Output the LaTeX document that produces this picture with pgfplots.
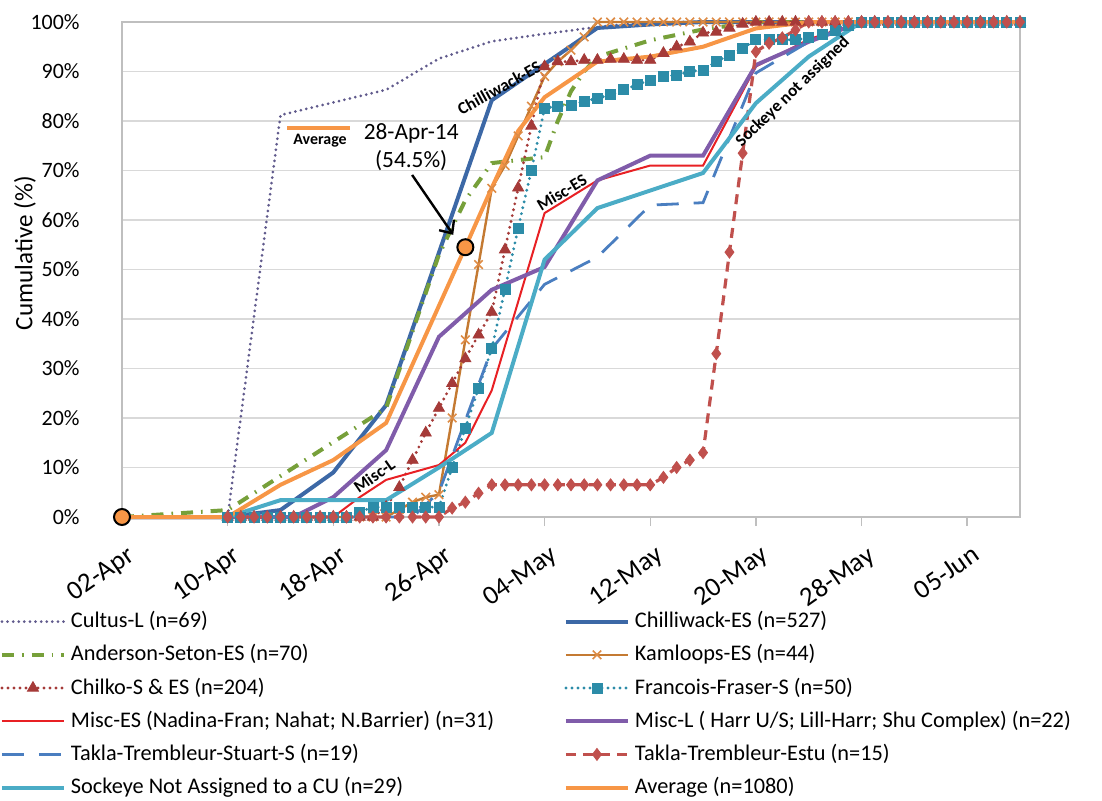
\documentclass[border=0pt]{standalone}
\usepackage{fontspec}
\setmainfont{Carlito}
\usepackage{pgfplots}
\usepackage{pgfplotstable}
\pgfplotsset{compat=1.18}
\usetikzlibrary{arrows.meta}

\definecolor{cultus}{RGB}{96,90,140}
\definecolor{chill}{RGB}{60,104,166}
\definecolor{anders}{RGB}{119,160,58}
\definecolor{kam}{RGB}{196,122,50}
\definecolor{kammark}{RGB}{222,140,70}
\definecolor{chilko}{RGB}{165,58,56}
\definecolor{fran}{RGB}{44,140,168}
\definecolor{miscES}{RGB}{232,32,36}
\definecolor{miscL}{RGB}{128,92,170}
\definecolor{stuart}{RGB}{74,126,192}
\definecolor{estu}{RGB}{192,80,77}
\definecolor{sockeye}{RGB}{75,172,198}
\definecolor{avg}{RGB}{247,150,70}
\definecolor{gridc}{RGB}{217,217,217}
\definecolor{axisc}{RGB}{191,191,191}

% day 0 = 02-Apr
\pgfplotstableread{
day kam chilko fran estu
0 0 0 0 0
8 0 0 0 0
9 0 0 0 0
10 0 0 0 0
11 0 0 0 0
12 0 0 0 0
13 0 0 0 0
14 0 0 0 0
15 0 0 0 0
16 0 0 0 0
17 0 0 0 0
18 0 0 1 0
19 0 0 2 0
20 0 2 2 0
21 1.5 6 2 0
22 3 11.5 2 0
23 4 17 2 0
24 4.5 22 2 0
25 20 27 10 1.8
26 35.8 32 18 3
27 51 36.8 26 4.8
28 66.4 41.4 34 6.5
29 71 54 46 6.5
30 77 66.5 58.4 6.5
31 83 79 70 6.5
32 89 91 82.6 6.5
33 92 92 83 6.5
34 94.3 92 83.2 6.5
35 97 92.3 84 6.5
36 100 92.3 84.6 6.5
37 100 92.5 85.3 6.5
38 100 92.5 86.3 6.5
39 100 92.3 87.3 6.5
40 100 92.3 88.3 6.5
41 100 93.7 89 8
42 100 95 89.3 10
43 100 96 90 11.5
44 100 97.8 90.3 13
45 100 98 92 33
46 100 98.8 93.3 53.5
47 100 99.6 94.7 73.5
48 100 100 96.4 94
49 100 100 96.4 95.7
50 100 100 96.4 96.8
51 100 100 96.4 98.4
52 100 100 96.8 100
53 100 100 97.4 100
54 100 100 98.4 100
55 100 100 99.4 100
56 100 100 100 100
57 100 100 100 100
58 100 100 100 100
59 100 100 100 100
60 100 100 100 100
61 100 100 100 100
62 100 100 100 100
63 100 100 100 100
64 100 100 100 100
65 100 100 100 100
66 100 100 100 100
67 100 100 100 100
68 100 100 100 100
}\daily

\begin{document}
\begin{tikzpicture}
\begin{axis}[
  scale only axis, width=449bp, height=247.5bp,
  xmin=0, xmax=68, ymin=0, ymax=100,
  clip=false,
  axis line style={draw=axisc, line width=0.7bp},
  ymajorgrids, grid style={draw=gridc, line width=0.7bp},
  xtick={0,8,16,24,32,40,48,56,64},
  xticklabels={02-Apr,10-Apr,18-Apr,26-Apr,04-May,12-May,20-May,28-May,05-Jun},
  ytick={0,10,...,100},
  yticklabels={0\%,10\%,20\%,30\%,40\%,50\%,60\%,70\%,80\%,90\%,100\%},
  tick align=outside, major tick length=4.5bp,
  xtick pos=left, ytick pos=left,
  xtick style={draw=axisc, line width=0.7bp},
  ytick style={draw=none},
  yticklabel style={font=\fontsize{11}{12}\selectfont, anchor=east, inner sep=0pt, xshift=-16.5bp},
  xticklabel style={font=\fontsize{13.5}{15}\selectfont, inner sep=0pt, xshift=2bp, yshift=-9bp, rotate=35, anchor=north east},
  ylabel={Cumulative (\%)},
  ylabel style={font=\fontsize{12.6}{14}\selectfont, at={(axis description cs:-0.108,0.533)}, anchor=center},
  legend columns=2,
  legend cell align=left,
  legend style={at={(axis description cs:-0.1359,-0.1778)}, anchor=north west,
    draw=none, fill=none, inner sep=0pt, outer sep=0pt,
    font=\fontsize{11.2}{13}\selectfont,
    nodes={inner xsep=2.5bp, inner ysep=2.5bp, text height=8.8bp, text depth=2.8bp, text width=240bp, align=flush left},
    /tikz/every even column/.append style={column sep=4bp}},
  legend image code/.code={\draw[mark repeat=2,mark phase=2,#1] plot coordinates {(0bp,0bp) (15.5bp,0bp) (31bp,0bp)};},
]
% Cultus-L
\addplot[cultus, line width=1.5bp, line cap=round, dash pattern=on 0bp off 2.8bp] coordinates {
(0,0) (8,0) (12,81.2) (20,86.3) (24,92.6) (28,96.1) (32,97.6) (36,99) (40,100) (68,100)};
\addlegendentry{Cultus-L (n=69)}
% Chilliwack-ES
\addplot[chill, line width=2bp] coordinates {
(0,0) (8,0) (12,1.4) (16,9) (20,22.6) (28,84.2) (36,98.8) (40,99.5) (44,100) (68,100)};
\addlegendentry{Chilliwack-ES (n=527)}
% Anderson-Seton-ES
\addplot[anders, line width=2bp, dash pattern=on 6bp off 4bp on 0.8bp off 4bp] coordinates {
(0,0) (8,1.4) (20,22) (24,53) (26,64) (28,71.5) (32,72.7) (33,80) (34,86) (35,90) (36,93) (40,96.3) (44,98.5) (48,100) (68,100)};
\addlegendentry{Anderson-Seton-ES (n=70)}
% Kamloops-ES
\addplot[kam, line width=1.2bp, mark=x, mark size=3bp, mark options={kammark, line width=0.8bp}] table[x=day,y=kam] {\daily};
\addlegendentry{Kamloops-ES (n=44)}
% Chilko
\addplot[chilko, line width=1.6bp, line cap=round, dash pattern=on 0bp off 3bp, mark=triangle*, mark size=3.2bp, mark options={solid, fill=chilko, draw=chilko, line width=0.4bp}] table[x=day,y=chilko] {\daily};
\addlegendentry{Chilko-S \& ES (n=204)}
% Francois-Fraser-S
\addplot[fran, line width=1.6bp, line cap=round, dash pattern=on 0bp off 3bp, mark=square*, mark size=2.5bp, mark options={solid, fill=fran, draw=fran, line width=0.4bp}] table[x=day,y=fran] {\daily};
\addlegendentry{Francois-Fraser-S (n=50)}
% Misc-ES
\addplot[miscES, line width=1bp] coordinates {
(0,0) (8,0) (16,0) (18,4) (20,7.5) (24,10.5) (26,15) (28,25.6) (32,61.4) (36,68) (40,71) (44,71) (48,91) (52,96.5) (56,100) (68,100)};
\addlegendentry{Misc-ES (Nadina-Fran; Nahat; N.Barrier) (n=31)}
% Misc-L
\addplot[miscL, line width=2bp] coordinates {
(0,0) (8,0) (13,0) (16,4) (20,13.5) (24,36.4) (28,45.9) (32,50.5) (36,68) (40,73) (44,73) (48,91.3) (52,96) (56,100) (68,100)};
\addlegendentry{Misc-L ( Harr U/S; Lill-Harr; Shu Complex) (n=22)}
% Takla-Trembleur-Stuart-S
\addplot[stuart, line width=1.4bp, dash pattern=on 11bp off 7.5bp] coordinates {
(0,0) (8,0) (22,0) (23,2.5) (24,5) (28,34) (32,47) (36,52.5) (40,63) (44,63.5) (48,89.7) (52,96) (56,100) (68,100)};
\addlegendentry{Takla-Trembleur-Stuart-S (n=19)}
% Takla-Trembleur-Estu
\addplot[estu, line width=1.6bp, dash pattern=on 5bp off 3.5bp, mark=diamond*, mark size=3bp, mark options={solid, fill=estu, draw=estu, line width=0.4bp}] table[x=day,y=estu] {\daily};
\addlegendentry{Takla-Trembleur-Estu (n=15)}
% Sockeye not assigned
\addplot[sockeye, line width=2bp] coordinates {
(0,0) (8,0) (12,3.4) (20,3.4) (24,10) (28,17) (32,52) (36,62.4) (44,69.5) (48,83.6) (52,93) (56,100) (68,100)};
\addlegendentry{Sockeye Not Assigned to a CU (n=29)}
% Average
\addplot[avg, line width=2bp] coordinates {
(0,0) (8,0) (12,6.5) (16,11.5) (20,19) (26,54.5) (28,66.5) (30,78) (32,84.8) (36,92) (40,93) (44,95) (48,98.7) (52,100) (68,100)};
\addlegendentry{Average (n=1080)}
% highlighted points
\addplot[only marks, mark=*, mark size=4bp, mark options={fill=avg, draw=black, line width=1bp}, forget plot] coordinates {(0,0) (26,54.5)};

% annotations
\draw[avg, line width=2bp] (axis cs:12.5,78.6) -- (axis cs:17.27,78.6);
\node[font=\bfseries\fontsize{8}{9}\selectfont] at (axis cs:15.0,76.0) {Average};
\node[font=\fontsize{11.7}{14}\selectfont, align=center] at (axis cs:21.9,74.8) {28-Apr-14\\(54.5\%)};
\draw[line width=1.2bp, -{Straight Barb[length=5bp, width=9bp]}] (axis cs:21.97,69.1) -- (axis cs:25.08,57.0);
\node[rotate=29, font=\bfseries\fontsize{8.6}{9}\selectfont] at (axis cs:28.56,86.7) {Chilliwack-ES};
\node[rotate=31, font=\bfseries\fontsize{8.6}{9}\selectfont] at (axis cs:33.3,65.6) {Misc-ES};
\node[rotate=35, font=\bfseries\fontsize{8.6}{9}\selectfont] at (axis cs:19.1,8.3) {Misc-L};
\node[rotate=44, font=\bfseries\fontsize{8.6}{9}\selectfont] at (axis cs:50.8,85.9) {Sockeye not assigned};
\end{axis}
\pgfresetboundingbox
\path[use as bounding box] (-61bp,-142bp) rectangle (490bp,258.5bp);
\end{tikzpicture}
\end{document}
